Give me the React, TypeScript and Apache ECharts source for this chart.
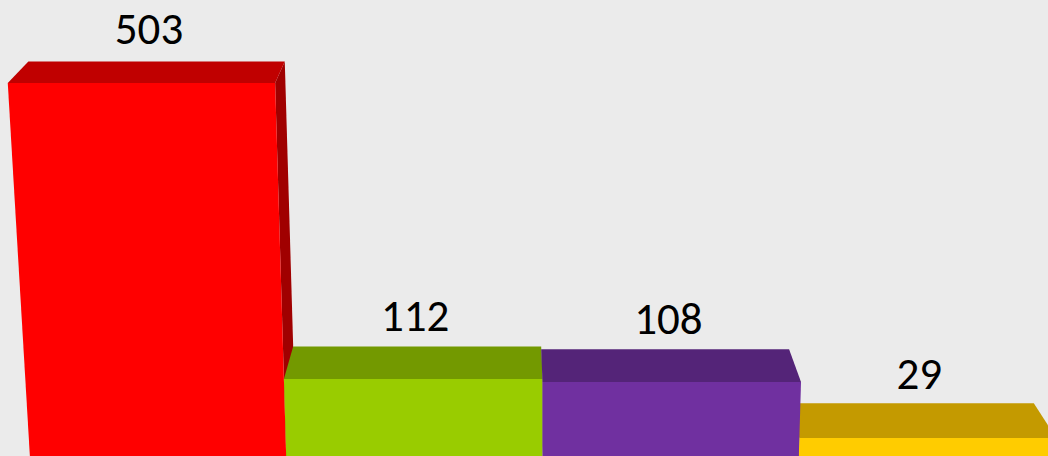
import React, { useEffect, useRef } from "react";
import * as echarts from "echarts";

const categories = ["Category 1", "Category 2", "Category 3", "Category 4"];
const values = [503, 112, 108, 29];

const frontColors = ["#ff0000", "#99cc00", "#7030a0", "#ffcc00"];
const topColors = ["#c00000", "#739900", "#542478", "#c49a00"];
const sideColors = ["#a00000", "#5c7a00", "#431d60", "#9c7a00"];

// projection constants (3D look)
const VX = 542; // vanishing x of vertical edges
const VY = 9100; // vanishing y of vertical edges
const K = 2.01e-4; // perspective warp of heights
const VX2 = 510; // depth vanishing x
const S = 0.041; // depth shrink in x
const D0 = 21.6;
const D1 = 0.037;

export default function App() {
  const ref = useRef<HTMLDivElement>(null);
  useEffect(() => {
    document.body.style.margin = "0";
    const chart = echarts.init(ref.current!, null, { renderer: "svg" });
    const renderItem = (params: any, api: any) => {
      const i = api.value(0);
      const v = api.value(1);
      const c = api.coord([i, v]);
      const c0 = api.coord([i, 0]);
      const bw = api.size([1, 0])[0];
      const y0 = c0[1];
      const warp = (yl: number) => yl - K * (y0 - yl) * (y0 - yl);
      const persp = (xb: number, y: number) => VX + ((xb - VX) * (VY - y)) / (VY - y0);
      const back = (p: number[]) => [p[0] + (VX2 - p[0]) * S, p[1] - (D0 + D1 * (p[1] - 83))];
      const yt = warp(c[1]);
      const xbL = c0[0] - bw / 2;
      const xbR = c0[0] + bw / 2;
      const fLT = [persp(xbL, yt), yt];
      const fRT = [persp(xbR, yt), yt];
      const fLB = [persp(xbL, y0), y0];
      const fRB = [persp(xbR, y0), y0];
      const bLT = back(fLT);
      const bRT = back(fRT);
      const bLB = back(fLB);
      const bRB = back(fRB);
      const z = i === 1 || i === 2 ? 20 : 10;
      const children: any[] = [];
      if (bRT[0] > fRT[0]) {
        children.push({
          type: "polygon",
          z2: z,
          shape: { points: [fRT, bRT, bRB, fRB] },
          style: { fill: sideColors[i] },
        });
      }
      if (bLT[0] < fLT[0]) {
        children.push({
          type: "polygon",
          z2: z,
          shape: { points: [fLT, bLT, bLB, fLB] },
          style: { fill: sideColors[i] },
        });
      }
      children.push({
        type: "polygon",
        z2: z + 1,
        shape: { points: [fLT, fRT, bRT, bLT] },
        style: { fill: topColors[i] },
      });
      children.push({
        type: "polygon",
        z2: z + 1,
        shape: { points: [fLT, fRT, fRB, fLB] },
        style: { fill: frontColors[i] },
      });
      const cx = (fLT[0] + fRT[0] + bLT[0] + bRT[0]) / 4;
      const backTop = bLT[1];
      const off = 33 - 0.008 * (backTop - 61);
      children.push({
        type: "text",
        z2: 50,
        style: {
          text: String(v),
          x: cx,
          y: backTop - off,
          align: "center",
          verticalAlign: "middle",
          fontSize: 45,
          fontFamily: "Carlito, Calibri, Lato, sans-serif",
          fill: "#000000",
        },
      });
      return { type: "group", children };
    };
    chart.setOption({
      animation: false,
      backgroundColor: "#ebebeb",
      grid: {
        left: 30,
        width: 1025,
        top: 40.1,
        height: 418.2,
        containLabel: false,
        outerBoundsMode: "none",
      },
      xAxis: { type: "category", data: categories, show: false, boundaryGap: true },
      yAxis: { type: "value", min: 0, max: 600, show: false, splitLine: { show: false } },
      series: [
        {
          type: "custom",
          renderItem,
          clip: false,
          data: values.map((v, i) => [i, v]),
        },
      ],
    });
    return () => chart.dispose();
  }, []);
  return <div ref={ref} style={{ width: 1048, height: 456 }} />;
}
